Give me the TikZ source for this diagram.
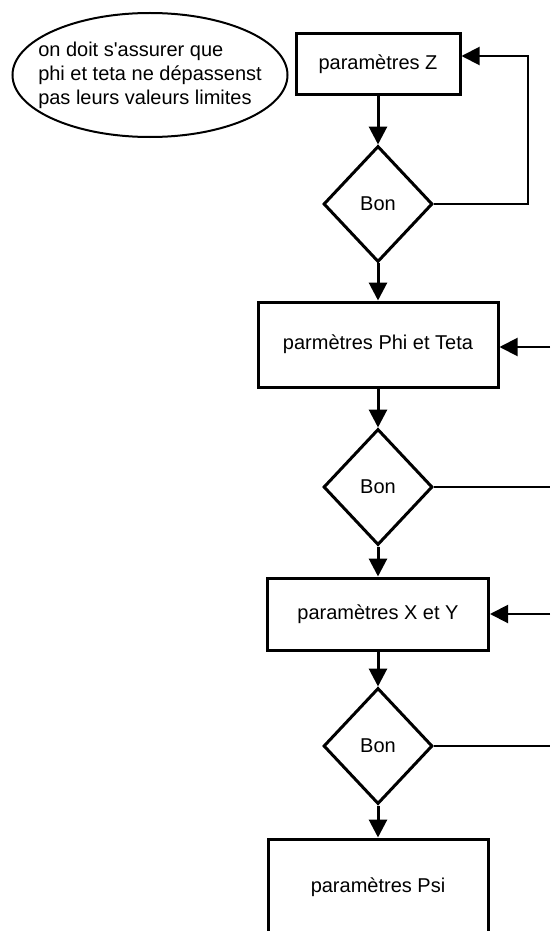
\documentclass[tikz,border=0pt]{standalone}
\usepackage{fontspec}
\setmainfont{Liberation Sans}
\usepackage{tikz}
\usetikzlibrary{arrows.meta}
\usetikzlibrary{shapes}
\usetikzlibrary{positioning}

\begin{document}
\begin{tikzpicture}[
            x=1pt, y=-1pt,
            >={Triangle[length=18pt, width=18pt]},
            every node/.style={font=\fontsize{20}{24}\selectfont},
            param/.style={rectangle, draw, line width=3pt, inner sep=0pt, align=center},
            test/.style={diamond, draw, line width=3pt, inner sep=0pt,
                         minimum width=109pt, minimum height=116pt},
            note/.style={ellipse, draw, line width=2pt, inner xsep=-15pt, inner ysep=0pt,
                         minimum width=275pt, minimum height=124pt, align=left},
            flow/.style={->, line width=3pt},
            back/.style={line width=2pt},
        ]

        % Page frame
        \clip (0,0) rectangle (550,931);

        % Remark (top left)
        \node[note] (remark) at (150,75) {
            on doit s\textquotesingle assurer que\\phi et teta ne dépassenst\\pas leurs valeurs limites
        };

        % Parameters Z and its test
        \node[param, minimum width=164pt, minimum height=61pt] (paramZ) at (378,64.5) {paramètres Z};
        \node[test] (testZ) at (378,204) {Bon};
        \draw[flow] (paramZ) -- (testZ);
        \draw[back, ->] (testZ.east) -- ++(94,0) |- ([yshift=8.5pt]paramZ.east);

        % Parameters Phi and Teta and its test
        \node[param, minimum width=240pt, minimum height=85pt] (paramPhiTeta) at (378,344.5) {parmètres Phi et Teta};
        \draw[flow] (testZ) -- (paramPhiTeta);
        \node[test] (testPhiTeta) at (378,487) {Bon};
        \draw[flow] (paramPhiTeta) -- (testPhiTeta);

        \coordinate (inPhiTeta) at (550,347);
        \coordinate (outPhiTeta) at (550,487);
        \draw[back, ->] (inPhiTeta) -- (paramPhiTeta.east |- inPhiTeta);
        \draw[back] (testPhiTeta.east) -- (outPhiTeta);

        % Parameters X and Y and its test
        \node[param, minimum width=221pt, minimum height=72pt] (paramXY) at (378,614) {paramètres X et Y};
        \draw[flow] (testPhiTeta) -- (paramXY);
        \node[test] (testXY) at (378,746) {Bon};
        \draw[flow] (paramXY) -- (testXY);

        \coordinate (inXY) at (550,614);
        \coordinate (outXY) at (550,746);
        \draw[back, ->] (inXY) -- (paramXY.east |- inXY);
        \draw[back] (testXY.east) -- (outXY);

        % Parameters Psi (cut by the page)
        \node[param, minimum width=220pt, minimum height=96pt] (paramPsi) at (378,887) {paramètres Psi};
        \draw[flow] (testXY) -- (paramPsi);

        \end{tikzpicture}
\end{document}
